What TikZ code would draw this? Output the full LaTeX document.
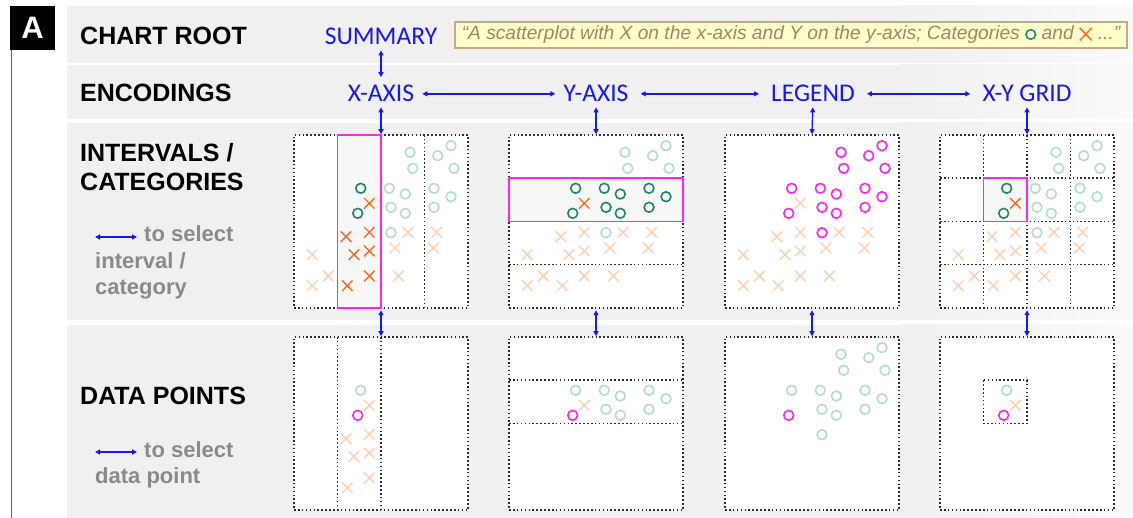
\documentclass[tikz,border=0pt]{standalone}
\usepackage{fontspec}
\setmainfont{Liberation Sans}
\newfontfamily\lblfont{Carlito}
\usetikzlibrary{arrows.meta}

\definecolor{bandgray}{RGB}{240,240,240}
\definecolor{bandlight}{RGB}{250,250,250}
\definecolor{linkblue}{RGB}{22,22,250}
\definecolor{hintgray}{RGB}{138,138,138}
\definecolor{quotefill}{RGB}{255,255,204}
\definecolor{quoteedge}{RGB}{196,168,140}
\definecolor{quotetext}{RGB}{166,132,98}
\definecolor{tealD}{RGB}{29,133,112}
\definecolor{tealL}{RGB}{176,219,208}
\definecolor{orangeD}{RGB}{255,104,28}
\definecolor{orangeL}{RGB}{255,204,172}
\definecolor{selmag}{RGB}{255,34,240}
\definecolor{dotgray}{RGB}{45,45,45}

% point sets, in chart coordinates (174 x 173, y downwards)
\def\CA{66.7/53.3}
\def\CB{63.7/78.3}
\def\CRowTwo{95.3/53.3,111.3/59,97/72.3,111.3/78.3,140/53.3,157/61.7,140/72.3}
\def\CTop{116/17.3,118.7/33.3,143.7/20.7,157/10.7,160/33.3,97/97.7}
\def\XA{75.3/68.3}
\def\XCol{52/101.7,75.3/97.3,60/119.7,75.3/116,75.3/141,53.3/150.7}
\def\XRest{18.3/119.7,34.3/141,18.3/150.7,114/97.3,101/113,104.3/141,142.7/97.3,139.3/113}

\newcommand\omarks[2]{\foreach \p/\q in #2 {\draw[line width=1.6pt,#1] (\p,\q) circle[radius=4.9pt];}}
\newcommand\xmarks[2]{\foreach \p/\q in #2 {\draw[line width=1.4pt,#1] ({\p-5.3},{\q-5.3}) -- ({\p+5.3},{\q+5.3}) ({\p-5.3},{\q+5.3}) -- ({\p+5.3},{\q-5.3});}}
\newcommand\ringsym{\tikz[baseline=0pt]\draw[tealD,line width=1.5pt] (5pt,5.5pt) circle[radius=4.8pt];}
\newcommand\crosssym{\tikz[baseline=0pt]\draw[orangeD,line width=1.5pt] (0pt,-0.5pt) -- (12pt,12pt) (0pt,12pt) -- (12pt,-0.5pt);}

\begin{document}
\begin{tikzpicture}[x=1pt,y=-1pt,
  heading/.style={font=\bfseries\fontsize{25}{25}\selectfont, anchor=base west, inner sep=0},
  hint/.style={font=\bfseries\fontsize{22}{22}\selectfont, text=hintgray, anchor=base west, inner sep=0},
  lbl/.style={font=\lblfont\fontsize{25.5}{25.5}\selectfont, text=linkblue, anchor=base, inner sep=0},
  biarrow/.style={linkblue, line width=1.4pt, arrows={Triangle[length=5pt,width=5pt]-Triangle[length=5pt,width=5pt]}},
  dotline/.style={draw=dotgray, line width=1.5pt, dash pattern=on 1.6pt off 2.3pt},
  chart/.style={dotline, fill=white, minimum width=174pt, minimum height=173pt, inner sep=0},
  selbox/.style={draw=selmag, line width=1.6pt, fill=black!3},
  quotebox/.style={draw=quoteedge, fill=quotefill, line width=1.2pt, minimum width=672pt,
    minimum height=26pt, inner sep=0, font=\itshape\fontsize{19.2}{19.2}\selectfont, text=quotetext}]
\useasboundingbox (0,0) rectangle (1133,518);

% background bands of the four levels
\foreach \t/\b in {6/63,65/119,123/320,325/518} {
  \fill[bandgray] (67,\t) rectangle (901,\b);
  \shade[left color=bandgray,right color=bandlight] (900,\t) rectangle (1133,\b);
}

% panel tag
\node[fill=black, text=white, font=\bfseries\fontsize{31}{31}\selectfont,
      minimum width=45pt, minimum height=44pt, inner sep=0] (tag) at (32.5,28) {A};
\coordinate (tagfoot) at (11.5,518);
\draw[gray!75!black, line width=1.8pt] (tag.south -| tagfoot) -- (tagfoot);

% level headings
\node[heading] (hroot) at (80,45) {CHART ROOT};
\node[heading] (henc) at (80,102) {ENCODINGS};
\node[heading] (hint1) at (80,162) {INTERVALS /};
\node[heading] (hint2) at (80,191) {CATEGORIES};
\node[heading] (hdata) at (80,405) {DATA POINTS};

% key hints
\coordinate (k1a) at (95,237); \coordinate (k1b) at (137,237);
\draw[biarrow] (k1a) -- (k1b);
\node[hint] (t1) at (144,242) {to select};
\node[hint] (t2) at (95,268.5) {interval /};
\node[hint] (t3) at (95,295) {category};
\coordinate (k2a) at (95,452); \coordinate (k2b) at (137,452);
\draw[biarrow] (k2a) -- (k2b);
\node[hint] (t4) at (144,457) {to select};
\node[hint] (t5) at (95,483) {data point};

% tree labels
\node[lbl] (summary) at (381,45) {SUMMARY};
\node[lbl] (xaxis) at (381,102) {X-AXIS};
\node[lbl] (yaxis) at (596,102) {Y-AXIS};
\node[lbl] (legend) at (813,102) {LEGEND};
\node[lbl] (grid) at (1027,102) {X-Y GRID};

\node[quotebox] (summtext) at (791,35)
  {“A scatterplot with X on the x-axis and Y on the y-axis; Categories \ringsym{} and \crosssym{} ...”};

% chart frames
\node[chart] (ix) at (381,221.5) {};
\node[chart] (iy) at (596,221.5) {};
\node[chart] (il) at (812,221.5) {};
\node[chart] (ig) at (1027,221.5) {};
\node[chart] (dx) at (381,423.5) {};
\node[chart] (dy) at (596,423.5) {};
\node[chart] (dl) at (812,423.5) {};
\node[chart] (dg) at (1027,423.5) {};

% interval: x-axis column
\begin{scope}[shift={(294,135)}]
  \draw[dotline] (130.5,0) -- (130.5,173);
  \draw[selbox] (43.5,0) rectangle (87,173);
  \omarks{tealL}{\CRowTwo} \omarks{tealL}{\CTop}
  \xmarks{orangeL}{\XRest}
  \omarks{tealD}{\CA} \omarks{tealD}{\CB}
  \xmarks{orangeD}{\XA} \xmarks{orangeD}{\XCol}
\end{scope}

% interval: y-axis row
\begin{scope}[shift={(509,135)}]
  \draw[dotline] (0,129.75) -- (174,129.75);
  \draw[selbox] (0,43.25) rectangle (174,86.5);
  \omarks{tealL}{\CTop}
  \xmarks{orangeL}{\XCol} \xmarks{orangeL}{\XRest}
  \omarks{tealD}{\CA} \omarks{tealD}{\CB} \omarks{tealD}{\CRowTwo}
  \xmarks{orangeD}{\XA}
\end{scope}

% category: legend
\begin{scope}[shift={(725,135)}]
  \xmarks{orangeL}{\XA} \xmarks{orangeL}{\XCol} \xmarks{orangeL}{\XRest}
  \omarks{selmag}{\CA} \omarks{selmag}{\CB} \omarks{selmag}{\CRowTwo} \omarks{selmag}{\CTop}
\end{scope}

% interval: grid cell
\begin{scope}[shift={(940,135)}]
  \foreach \g in {43.5,87,130.5} \draw[dotline] (\g,0) -- (\g,173);
  \foreach \g in {43.25,86.5,129.75} \draw[dotline] (0,\g) -- (174,\g);
  \draw[selbox] (43.5,43.25) rectangle (87,86.5);
  \omarks{tealL}{\CRowTwo} \omarks{tealL}{\CTop}
  \xmarks{orangeL}{\XCol} \xmarks{orangeL}{\XRest}
  \omarks{tealD}{\CA} \omarks{tealD}{\CB}
  \xmarks{orangeD}{\XA}
\end{scope}

% data points: x-axis column
\begin{scope}[shift={(294,337)}]
  \draw[dotline] (43.5,0) -- (43.5,173) (87,0) -- (87,173);
  \omarks{tealL}{\CA}
  \xmarks{orangeL}{\XA} \xmarks{orangeL}{\XCol}
  \omarks{selmag}{\CB}
\end{scope}

% data points: y-axis row
\begin{scope}[shift={(509,337)}]
  \draw[dotline] (0,43.25) -- (174,43.25) (0,86.5) -- (174,86.5);
  \omarks{tealL}{\CA} \omarks{tealL}{\CRowTwo}
  \xmarks{orangeL}{\XA}
  \omarks{selmag}{\CB}
\end{scope}

% data points: legend category
\begin{scope}[shift={(725,337)}]
  \omarks{tealL}{\CA} \omarks{tealL}{\CRowTwo} \omarks{tealL}{\CTop}
  \omarks{selmag}{\CB}
\end{scope}

% data points: grid cell
\begin{scope}[shift={(940,337)}]
  \draw[dotline] (43.5,43.25) rectangle (87,86.5);
  \omarks{tealL}{\CA}
  \xmarks{orangeL}{\XA}
  \omarks{selmag}{\CB}
\end{scope}

% navigation arrows
\draw[biarrow, shorten <=5pt, shorten >=8pt] (summary.south) -- (xaxis.north);
\draw[biarrow, shorten <=8pt, shorten >=8pt] (xaxis.east) -- (yaxis.west);
\draw[biarrow, shorten <=12pt, shorten >=12pt] (yaxis.east) -- (legend.west);
\draw[biarrow, shorten <=12pt, shorten >=12pt] (legend.east) -- (grid.west);
\foreach \a/\b/\c in {xaxis/ix/dx, yaxis/iy/dy, legend/il/dl, grid/ig/dg} {
  \draw[biarrow, shorten <=5pt] (\a.south) -- (\b.north);
  \draw[biarrow, shorten <=1.5pt] (\b.south) -- (\c.north);
}
\end{tikzpicture}
\end{document}
